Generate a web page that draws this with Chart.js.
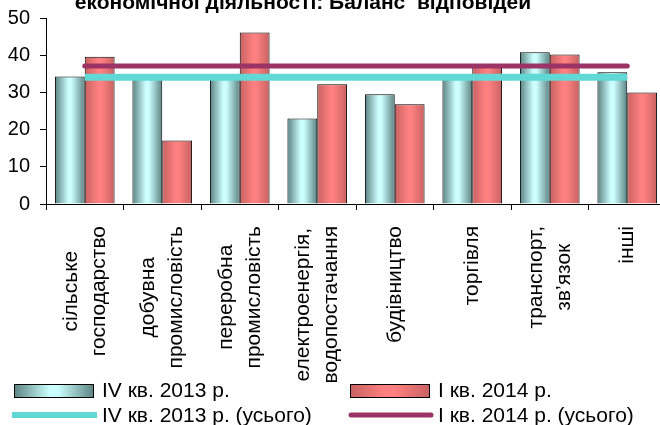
<!DOCTYPE html>
<html>
<head>
<meta charset="utf-8">
<script src="https://cdn.jsdelivr.net/npm/chart.js@4.4.1/dist/chart.umd.min.js"></script>
<style>
  html, body { margin: 0; padding: 0; background: #fff; overflow: hidden; }
  #wrap { width: 660px; height: 425px; overflow: hidden; }
</style>
</head>
<body>
<div id="wrap"><canvas id="balanceChart" width="680" height="425"></canvas></div>
<script>
// categories (multi-line labels)
const categories = [
    ['сільське', 'господарство'],
    ['добувна', 'промисловість'],
    ['переробна', 'промисловість'],
    ['електроенергія,', 'водопостачання'],
    ['будівництво'],
    ['торгівля'],
    ['транспорт,', 'зв\u2019язок'],
    ['інші']
];
const q4_2013 = [34.3, 34.5, 34.5, 23.0, 29.5, 34.5, 40.8, 35.4];
const q1_2014 = [39.6, 17.1, 46.1, 32.2, 26.8, 36.8, 40.2, 30.0];
const q4_2013Total = [34.1, 34.1, 34.1, 34.1, 34.1, 34.1, 34.1, 34.1];
const q1_2014Total = [37.1, 37.1, 37.1, 37.1, 37.1, 37.1, 37.1, 37.1];
const yTicks = [0, 10, 20, 30, 40, 50];
const seriesNames = ['IV кв. 2013 р.', 'I кв. 2014 р.', 'IV кв. 2013 р. (усього)', 'I кв. 2014 р. (усього)'];
const titleText = 'економічної діяльності: Баланс  відповідей';

const fontFamily = "'Liberation Sans', Arial, sans-serif";
const groupPercent = 0.77;
const teal = { dark: '#5b8282', light: '#ccffff' };
const salmon = { dark: '#c86262', light: '#ff8080' };
const cyanLine = '#5fd8d6';
const plumLine = '#9b3366';

function makeGradient(ctx, left, width, colors) {
    const g = ctx.createLinearGradient(left, 0, left + width, 0);
    g.addColorStop(0, colors.dark);
    g.addColorStop(0.45, colors.light);
    g.addColorStop(0.55, colors.light);
    g.addColorStop(1, colors.dark);
    return g;
}

function barFill(c, slot, colors) {
    const xs = c.chart.scales.x;
    if (c.type !== 'data' || !xs) return colors.light;
    const center = xs.getPixelForValue(c.dataIndex);
    const half = xs.width / categories.length * groupPercent / 2;
    if (!isFinite(center) || !isFinite(half) || half <= 0) return colors.light;
    const left = slot === 0 ? center - half : center;
    return makeGradient(c.chart.ctx, left, half, colors);
}

const textPlugin = {
    id: 'textPlugin',
    afterDraw(chart) {
        const ctx = chart.ctx;
        const x = chart.scales.x;
        ctx.save();
        ctx.fillStyle = '#000';

        // title (only its last line is visible)
        ctx.font = 'bold 21px ' + fontFamily;
        ctx.textAlign = 'center';
        ctx.textBaseline = 'alphabetic';
        ctx.fillText(titleText, 303, 9);

        // category labels, rotated, lines centred on each other
        ctx.font = '21px ' + fontFamily;
        ctx.textBaseline = 'middle';
        const labelTop = x.bottom + 16;
        const lineGap = 28;
        categories.forEach((lines, i) => {
            const cx = x.getPixelForValue(i);
            const maxW = Math.max(...lines.map(l => ctx.measureText(l).width));
            ctx.save();
            ctx.translate(cx, labelTop);
            ctx.rotate(-Math.PI / 2);
            lines.forEach((line, j) => {
                ctx.fillText(line, -maxW / 2, (j - (lines.length - 1) / 2) * lineGap);
            });
            ctx.restore();
        });

        // legend, 2 x 2
        ctx.font = '21px ' + fontFamily;
        ctx.textAlign = 'left';
        const cols = [12, 348];
        const rows = [391, 416];
        // bar swatches
        [teal, salmon].forEach((colors, k) => {
            const left = cols[k] + 2;
            ctx.fillStyle = makeGradient(ctx, left, 80, colors);
            ctx.fillRect(left, rows[0] - 7, 80, 14);
            ctx.strokeStyle = '#000';
            ctx.lineWidth = 1;
            ctx.strokeRect(left + 0.5, rows[0] - 6.5, 79, 13);
            ctx.fillStyle = '#000';
            ctx.fillText(seriesNames[k], cols[k] + 90, rows[0]);
        });
        // line swatches
        ctx.lineWidth = 6;
        ctx.strokeStyle = cyanLine;
        ctx.lineCap = 'butt';
        ctx.beginPath();
        ctx.moveTo(cols[0], rows[1] - 1);
        ctx.lineTo(cols[0] + 85, rows[1] - 1);
        ctx.stroke();
        ctx.lineWidth = 5;
        ctx.strokeStyle = plumLine;
        ctx.lineCap = 'round';
        ctx.beginPath();
        ctx.moveTo(cols[1] + 3, rows[1] - 1);
        ctx.lineTo(cols[1] + 83, rows[1] - 1);
        ctx.stroke();
        ctx.fillStyle = '#000';
        ctx.fillText(seriesNames[2], cols[0] + 90, rows[1]);
        ctx.fillText(seriesNames[3], cols[1] + 90, rows[1]);
        ctx.restore();
    }
};

const ctx = document.getElementById('balanceChart').getContext('2d');

const balanceChart = new Chart(ctx, {
    data: {
        labels: categories,
        datasets: [
            {
                type: 'bar',
                label: seriesNames[0],
                data: q4_2013,
                backgroundColor: c => barFill(c, 0, teal),
                borderColor: '#000',
                borderWidth: 1,
                categoryPercentage: groupPercent,
                barPercentage: 1,
                order: 2
            },
            {
                type: 'bar',
                label: seriesNames[1],
                data: q1_2014,
                backgroundColor: c => barFill(c, 1, salmon),
                borderColor: '#000',
                borderWidth: 1,
                categoryPercentage: groupPercent,
                barPercentage: 1,
                order: 2
            },
            {
                type: 'line',
                label: seriesNames[2],
                data: q4_2013Total,
                borderColor: cyanLine,
                borderWidth: 7,
                borderCapStyle: 'butt',
                pointRadius: 0,
                fill: false,
                order: 1
            },
            {
                type: 'line',
                label: seriesNames[3],
                data: q1_2014Total,
                borderColor: plumLine,
                borderWidth: 5,
                borderCapStyle: 'round',
                pointRadius: 0,
                fill: false,
                order: 0
            }
        ]
    },
    options: {
        responsive: false,
        animation: false,
        layout: {
            padding: { top: 18, bottom: 215, left: 0, right: 14 }
        },
        plugins: {
            legend: { display: false },
            tooltip: { enabled: false },
            title: { display: false }
        },
        scales: {
            x: {
                offset: true,
                grid: { display: true, drawOnChartArea: false, drawTicks: true, tickLength: 6, color: '#000', offset: true },
                border: { display: true, color: '#000', width: 1 },
                ticks: { display: false }
            },
            y: {
                min: 0,
                max: 50,
                afterBuildTicks: scale => { scale.ticks = yTicks.map(v => ({ value: v })); },
                afterFit: scale => {
                    scale.width = 46;
                    scale.paddingTop = 0;
                    scale.paddingBottom = 0;
                },
                grid: { drawOnChartArea: false, drawTicks: true, tickLength: 6, color: '#000' },
                border: { display: true, color: '#000', width: 1 },
                ticks: { color: '#000', padding: 10, font: { size: 20, family: fontFamily } }
            }
        }
    },
    plugins: [textPlugin]
});
</script>
</body>
</html>
